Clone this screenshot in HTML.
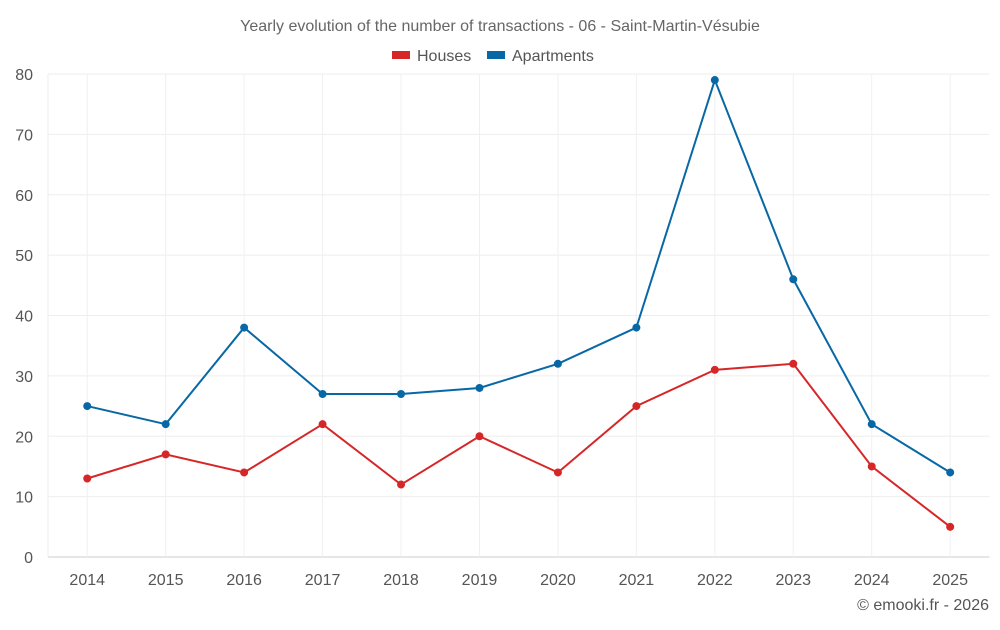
<!DOCTYPE html>
<html><head><meta charset="utf-8"><style>
body{margin:0;background:#fff;width:1000px;height:625px;overflow:hidden;font-family:"Liberation Sans",sans-serif;}
svg text{font-family:"Liberation Sans",sans-serif;}
</style></head><body>
<svg id="chart" width="1000" height="625">
<text x="500" y="31" text-anchor="middle" font-size="16" fill="#666">Yearly evolution of the number of transactions - 06 - Saint-Martin-Vésubie</text>
<g><rect x="392" y="51" width="18" height="8" fill="#d62728"/><text x="417" y="61" font-size="16" fill="#555">Houses</text></g>
<g><rect x="487" y="51" width="18" height="8" fill="#0868a6"/><text x="512" y="61" font-size="16" fill="#555">Apartments</text></g>
<g id="grid"></g><g id="axes"></g><g id="series"></g>
<text x="989" y="610" text-anchor="end" font-size="16" fill="#555">© emooki.fr - 2026</text>
</svg>
<script>
const categories=["2014","2015","2016","2017","2018","2019","2020","2021","2022","2023","2024","2025"];
const houses=[13,17,14,22,12,20,14,25,31,32,15,5];
const apartments=[25,22,38,27,27,28,32,38,79,46,22,14];
const yTicks=[0,10,20,30,40,50,60,70,80];
const L=48,R=989.4,T=74,B=557,yMax=80;
const bw=(R-L)/categories.length;
const x=i=>L+bw*(i+0.5);
const y=v=>B-(B-T)*v/yMax;
const NS="http://www.w3.org/2000/svg";
function mk(t,a,p){const e=document.createElementNS(NS,t);for(const k in a)e.setAttribute(k,a[k]);p.appendChild(e);return e;}
const g=document.getElementById('grid'),ax=document.getElementById('axes'),s=document.getElementById('series');
yTicks.forEach(v=>{
 const l=mk('line',{x1:L,x2:R,y1:y(v),y2:y(v),stroke:v===0?'#ccc':'#eee'},g);
 
 
 const t=mk('text',{x:33,y:y(v)+6,'text-anchor':'end','font-size':16,fill:'#555'},ax);t.textContent=v;
 
 
});
mk('line',{x1:L,x2:L,y1:T,y2:B,stroke:'#eee'},g);
categories.forEach((c,i)=>{
 const l=mk('line',{x1:x(i),x2:x(i),y1:T,y2:B,stroke:'#f0f0f0'},g);
 
 
 const t=mk('text',{x:x(i),y:585,'text-anchor':'middle','font-size':16,fill:'#555'},ax);t.textContent=c;
 
 
});
[[apartments,'#0868a6','apartments'],[houses,'#d62728','houses']].forEach(([d,c,n])=>{
 const p=mk('polyline',{points:d.map((v,i)=>x(i)+','+y(v)).join(' '),fill:'none',stroke:c,'stroke-width':2},s);
 
 
 d.forEach((v,i)=>{
  const m=mk('circle',{cx:x(i),cy:y(v),r:4,fill:c},s);
  
  
 });
});
</script>
</body></html>
